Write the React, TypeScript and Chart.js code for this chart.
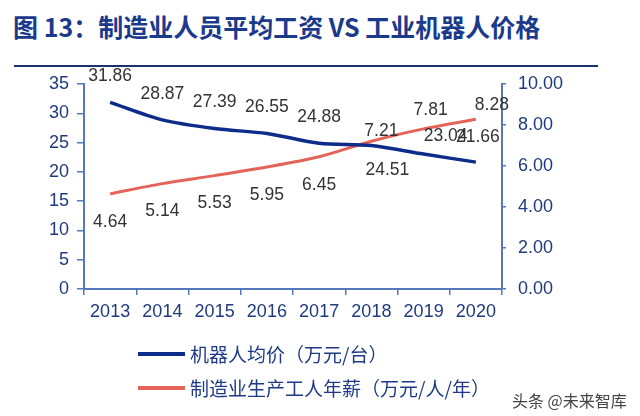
import React, { useEffect, useRef } from "react";
import { Chart, registerables } from "chart.js";

Chart.register(...registerables);

const years = ["2013", "2014", "2015", "2016", "2017", "2018", "2019", "2020"];
const robotPrice = [31.86, 28.87, 27.39, 26.55, 24.88, 24.51, 23.04, 21.66];
const workerSalary = [4.64, 5.14, 5.53, 5.95, 6.45, 7.21, 7.81, 8.28];
const seriesNames = ["机器人均价（万元/台）", "制造业生产工人年薪（万元/人/年）"];
const titleText = "图 13：制造业人员平均工资 VS 工业机器人价格";
const watermarkText = "头条 @未来智库";

// label placement (dx, dy in px relative to the point)
const priceLabelOffsets: [number, number][] = [
  [0, -26], [0, -26], [0, -26], [0, -26], [0, -26], [16, 25], [22, -18], [2, -25],
];
const salaryLabelOffsets: [number, number][] = [
  [0, 28], [0, 28], [0, 28], [0, 28], [0, 28], [10, -10], [7, -19], [16, -14],
];

const BLUE = "#0d2c8a";
const RED = "#e5645a";
const AXIS = "#5578bd";
const TICK_TEXT = "#1f3a7e";
const NUM_FONT = "'Liberation Sans', Arial, sans-serif";
const CJK_FONT = "'Noto Sans CJK SC', 'Noto Sans', sans-serif";

const dataLabelPlugin = {
  id: "dataLabelPlugin",
  afterDatasetsDraw(chart: any) {
    const ctx = chart.ctx;
    const offsets = [priceLabelOffsets, salaryLabelOffsets];
    ctx.save();
    ctx.font = `17.5px ${NUM_FONT}`;
    ctx.fillStyle = "#333333";
    ctx.textAlign = "center";
    ctx.textBaseline = "middle";
    chart.data.datasets.forEach((ds: any, di: number) => {
      const meta = chart.getDatasetMeta(di);
      meta.data.forEach((pt: any, i: number) => {
        const [dx, dy] = offsets[di][i];
        ctx.fillText(Number(ds.data[i]).toFixed(2), pt.x + dx, pt.y + dy);
      });
    });
    ctx.restore();
  },
};

export default function App() {
  const canvasRef = useRef<HTMLCanvasElement | null>(null);

  useEffect(() => {
    document.body.style.margin = "0";
    const canvas = canvasRef.current;
    if (!canvas) return;
    const gridCommon = {
      display: true,
      drawOnChartArea: false,
      drawTicks: true,
      color: AXIS,
      lineWidth: 1.5,
    };
    const chart = new Chart(canvas, {
      type: "line",
      data: {
        labels: years,
        datasets: [
          {
            label: seriesNames[0],
            data: robotPrice,
            borderColor: BLUE,
            backgroundColor: BLUE,
            borderWidth: 3.5,
            pointRadius: 0,
            tension: 0.3,
            yAxisID: "y",
          },
          {
            label: seriesNames[1],
            data: workerSalary,
            borderColor: RED,
            backgroundColor: RED,
            borderWidth: 3,
            pointRadius: 0,
            tension: 0.3,
            yAxisID: "y1",
          },
        ],
      },
      options: {
        responsive: false,
        animation: false,
        layout: { padding: { top: 84, left: 0, right: 0, bottom: 0 } },
        plugins: {
          legend: { display: false },
          title: { display: false },
          tooltip: { enabled: false },
        },
        scales: {
          x: {
            type: "category",
            offset: true,
            grid: { ...gridCommon, offset: true, tickLength: 6 },
            border: { display: true, color: AXIS, width: 2 },
            ticks: {
              color: TICK_TEXT,
              font: { size: 18, family: NUM_FONT },
              padding: 6,
              maxRotation: 0,
            },
            afterFit: (s: any) => {
              s.height = 127;
            },
          },
          y: {
            position: "left",
            min: 0,
            max: 35,
            grid: { ...gridCommon, tickLength: 7 },
            border: { display: true, color: AXIS, width: 2 },
            ticks: {
              stepSize: 5,
              color: TICK_TEXT,
              font: { size: 18, family: NUM_FONT },
              padding: 8,
            },
            afterFit: (s: any) => {
              s.width = 84;
            },
          },
          y1: {
            position: "right",
            min: 0,
            max: 10,
            grid: { ...gridCommon, tickLength: 4 },
            border: { display: true, color: AXIS, width: 2 },
            ticks: {
              stepSize: 2,
              color: TICK_TEXT,
              font: { size: 18, family: NUM_FONT },
              padding: 12,
              callback: (v: any) => Number(v).toFixed(2),
            },
            afterFit: (s: any) => {
              s.width = 138;
            },
          },
        },
      },
      plugins: [dataLabelPlugin],
    });
    return () => chart.destroy();
  }, []);

  const legendRow = (color: string, text: string, top: number) => (
    <div style={{ position: "absolute", left: 138, top, height: 24, display: "flex", alignItems: "center" }}>
      <div style={{ width: 47, height: 4, background: color, marginRight: 5 }} />
      <span style={{ fontFamily: CJK_FONT, fontSize: 19, color: "#1f3b87", whiteSpace: "nowrap", lineHeight: "24px" }}>
        {text}
      </span>
    </div>
  );

  return (
    <div style={{ position: "fixed", left: 0, top: 0, width: 640, height: 416, background: "#ffffff", overflow: "hidden" }}>
      <div
        style={{
          position: "absolute",
          left: 13,
          top: 8,
          fontFamily: CJK_FONT,
          fontWeight: 700,
          fontSize: 25,
          color: "#1b3a8c",
          whiteSpace: "nowrap",
          lineHeight: "36px",
        }}
      >
        {titleText}
      </div>
      <div style={{ position: "absolute", left: 14, top: 65, width: 584, height: 2, background: "#1b3070" }} />
      <canvas ref={canvasRef} width={640} height={416} style={{ position: "absolute", left: 0, top: 0, width: 640, height: 416 }} />
      {legendRow(BLUE, seriesNames[0], 342)}
      {legendRow(RED, seriesNames[1], 376)}
      <div
        style={{
          position: "absolute",
          left: 512,
          top: 390,
          fontFamily: CJK_FONT,
          fontSize: 16,
          color: "#444444",
          whiteSpace: "nowrap",
          lineHeight: "20px",
        }}
      >
        {watermarkText}
      </div>
    </div>
  );
}
